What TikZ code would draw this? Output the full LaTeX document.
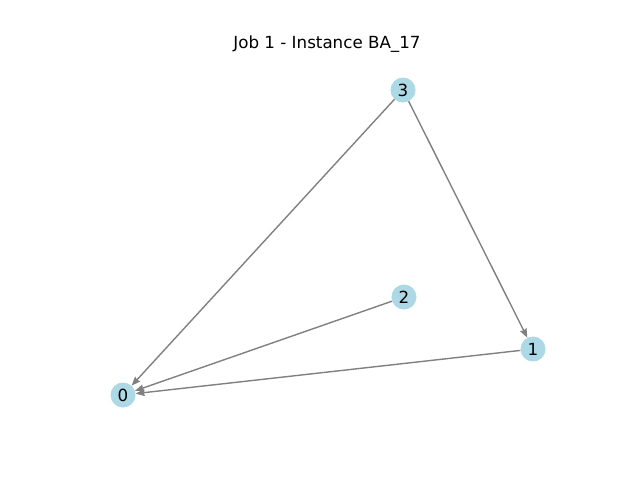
\documentclass[tikz,border=0pt]{standalone}
\usepackage{fontspec}
\setmainfont{DejaVu Sans}
\usetikzlibrary{arrows.meta}
\definecolor{nodeblue}{RGB}{173,216,230}

\begin{document}
\begin{tikzpicture}[x=1pt,y=-1pt,
    vert/.style={circle,fill=nodeblue,minimum size=25pt,inner sep=0pt,font=\fontsize{16.7}{20}\selectfont},
    edge/.style={draw=gray,line width=1.4pt,-{Stealth[length=9pt,width=7pt,inset=1pt]}}]
    \useasboundingbox (0,0) rectangle (640,480);
    \node[font=\fontsize{16.7}{20}\selectfont] (title) at (327,44) {Job 1 - Instance BA\_17};
    \foreach \n/\x/\y in {0/123/395,1/533/349,2/404/297,3/403/90}{
      \node[vert] (v\n) at (\x,\y) {\n};
    }
    \foreach \a/\b in {3/0,3/1,2/0,1/0}{
      \draw[edge] (v\a) -- (v\b);
    }
\end{tikzpicture}
\end{document}
